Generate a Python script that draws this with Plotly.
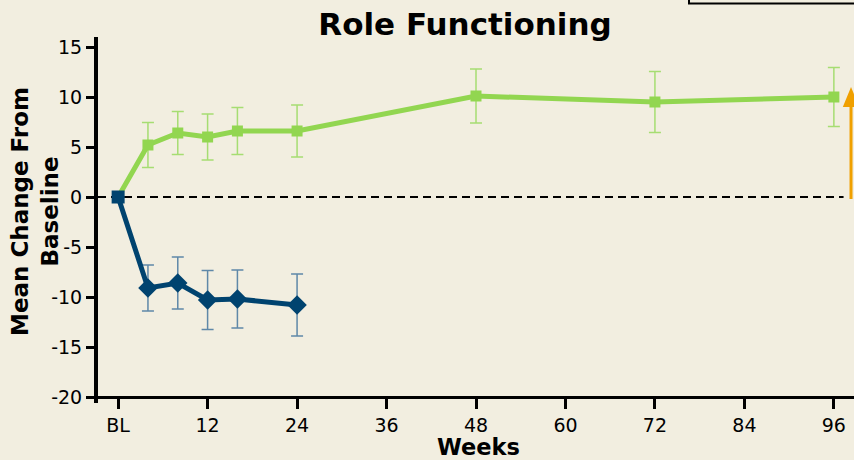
import plotly.graph_objects as go

# ---- data ----
weeks_active = [0, 4, 8, 12, 16, 24, 48, 72, 96]
mean_active = [0, 5.2, 6.4, 6.0, 6.6, 6.6, 10.1, 9.5, 10.0]
err_active = [0, 2.25, 2.15, 2.3, 2.35, 2.6, 2.7, 3.05, 2.95]

weeks_placebo = [0, 4, 8, 12, 16, 24]
mean_placebo = [0, -9.1, -8.6, -10.3, -10.2, -10.8]
err_placebo = [0, 2.3, 2.6, 2.95, 2.9, 3.1]

xtick_vals = [0, 12, 24, 36, 48, 60, 72, 84, 96]
xtick_text = ["BL", "12", "24", "36", "48", "60", "72", "84", "96"]
ytick_vals = [-20, -15, -10, -5, 0, 5, 10, 15]
ytick_text = ["-20", "-15", "-10", "-5", "0", "5", "10", "15"]

BG = "#F2EEE0"
GREEN = "#92D650"
GREEN_ERR = "#A6DD72"
BLUE = "#00436F"
BLUE_ERR = "#5F88A8"
ORANGE = "#F0A000"
FONT = "DejaVu Sans"

Y_LO, Y_HI = -20.6, 16

fig = go.Figure()

fig.add_trace(go.Scatter(
    x=weeks_active, y=mean_active, mode="lines+markers",
    line=dict(color=GREEN, width=5),
    marker=dict(symbol="square", size=11, color=GREEN, opacity=1, line=dict(width=0)),
    error_y=dict(type="data", array=err_active, color=GREEN_ERR, thickness=1.5, width=6),
    showlegend=False, cliponaxis=False,
))

fig.add_trace(go.Scatter(
    x=weeks_placebo, y=mean_placebo, mode="lines+markers",
    line=dict(color=BLUE, width=5),
    marker=dict(symbol=["square"] + ["diamond"] * (len(weeks_placebo) - 1),
                size=[13] + [15] * (len(weeks_placebo) - 1), color=BLUE,
                opacity=1, line=dict(width=0)),
    error_y=dict(type="data", array=err_placebo, color=BLUE_ERR, thickness=1.5, width=6),
    showlegend=False, cliponaxis=False,
))

# dashed zero reference line
fig.add_shape(type="line", xref="x", yref="y", x0=-2.7, x1=97.3, y0=0, y1=0,
              line=dict(color="black", width=2, dash="8px,5px"), layer="below")

# orange arrow at right edge
fig.add_shape(type="line", xref="x", yref="y", x0=98.3, x1=98.3, y0=-0.2, y1=9.2,
              line=dict(color=ORANGE, width=3))
fig.add_shape(type="path", xref="x", yref="y",
              path="M 97.2,9.0 L 98.3,11.0 L 99.4,9.0 Z",
              fillcolor=ORANGE, line=dict(color=ORANGE, width=0))

# partially visible box at top right
fig.add_shape(type="rect", xref="paper", yref="paper",
              x0=(689 - 98) / 756, x1=1.2, y0=1 + (37 - 3.5) / 366, y1=1.3,
              line=dict(color="black", width=2), fillcolor=BG)

plot_h = 403 - 37

fig.update_layout(
    width=854, height=460,
    margin=dict(l=98, r=0, t=37, b=460 - 403),
    paper_bgcolor=BG, plot_bgcolor=BG,
    font=dict(family=FONT, color="black", size=19),
    title=dict(text="<b>Role Functioning</b>", x=465 / 854, xanchor="center",
               y=1 - 24 / 460, yanchor="middle", font=dict(size=31, family=FONT)),
    xaxis=dict(range=[-2.7, 98.7], tickvals=xtick_vals, ticktext=xtick_text,
               anchor="free", position=(-20 - Y_LO) / (Y_HI - Y_LO),
               showgrid=False, zeroline=False, showline=True, linecolor="black",
               linewidth=3, ticks="outside", ticklen=10, tickwidth=3, tickcolor="black",
               tickfont=dict(size=19)),
    yaxis=dict(range=[Y_LO, Y_HI], tickvals=ytick_vals, ticktext=ytick_text,
               showgrid=False, zeroline=False, showline=True, linecolor="black",
               linewidth=4, ticks="outside", ticklen=8, tickwidth=3, tickcolor="black",
               tickfont=dict(size=19)),
    annotations=[
        dict(text="<b>Mean Change From<br>Baseline</b>", xref="paper", yref="paper",
             x=(35 - 98) / 756, y=(403 - 212) / plot_h, xanchor="center", yanchor="middle",
             textangle=-90, showarrow=False, font=dict(size=23, family=FONT)),
        dict(text="<b>Weeks</b>", xref="paper", yref="paper",
             x=(478 - 98) / 756, y=(403 - 447) / plot_h, xanchor="center", yanchor="middle",
             showarrow=False, font=dict(size=22.5, family=FONT)),
    ],
)

fig.write_html("out.html")
